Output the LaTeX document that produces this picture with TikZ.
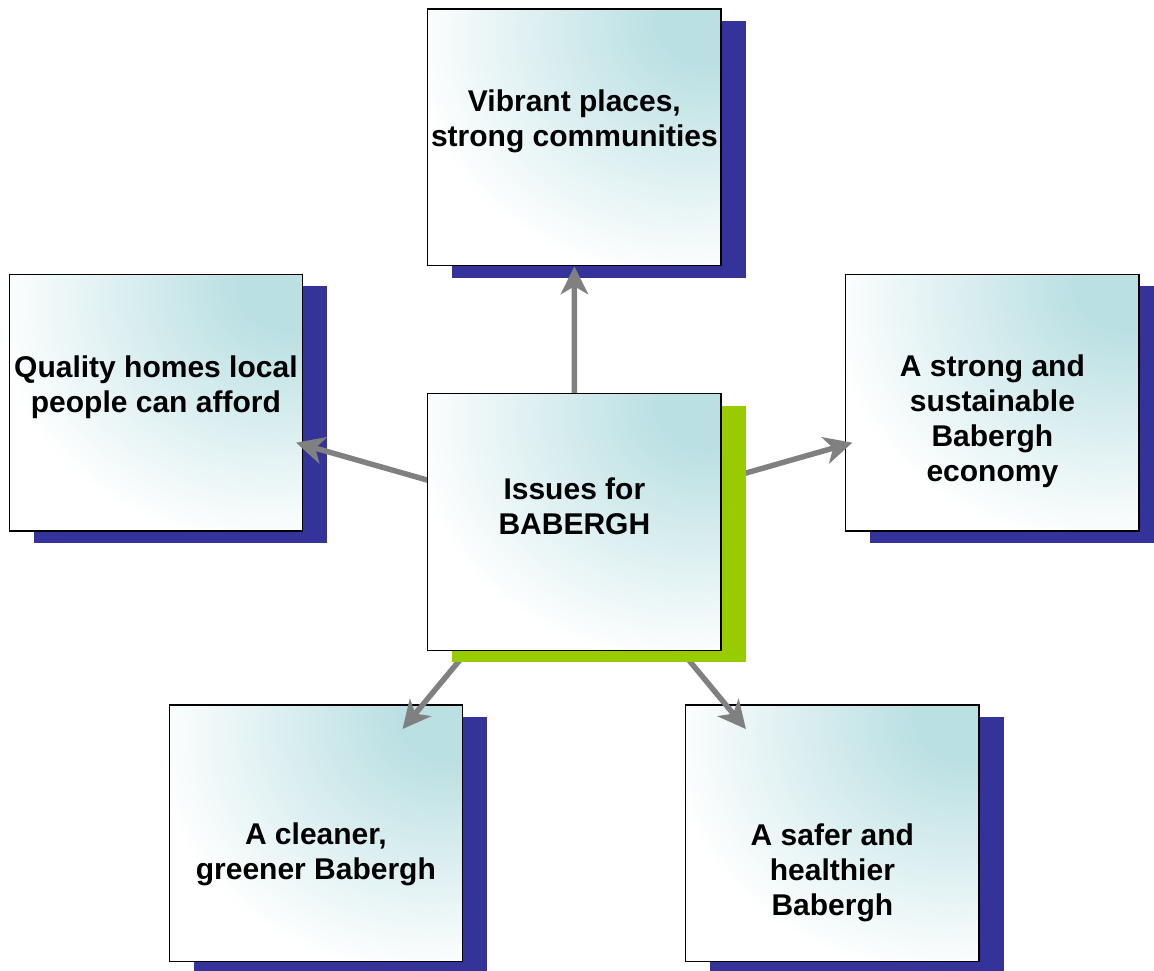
\documentclass[tikz,border=0pt]{standalone}
\usepackage{fontspec}
\setmainfont{Liberation Sans}
\usepackage{tikz}
\usetikzlibrary{arrows.meta, calc, shadows}
\definecolor{bbteal}{RGB}{187, 224, 227}
\definecolor{bbnavy}{RGB}{51, 51, 153}
\definecolor{bblime}{RGB}{153, 204, 0}
\definecolor{bbgray}{RGB}{128, 128, 128}
\pgfdeclareradialshading{bbglow}{\pgfpoint{24bp}{24bp}}{color(0bp)=(bbteal); color(9bp)=(bbteal); color(46bp)=(white); color(200bp)=(white)}

\begin{document}
\begin{tikzpicture}[
  x=0.75pt, y=-0.75pt,
  box/.style={rectangle, draw=black, line width=1pt, shading=bbglow, minimum width=220pt, minimum height=192.4pt, inner sep=0pt},
  navyshadow/.style={drop shadow={shadow xshift=18.4pt, shadow yshift=-9pt, fill=bbnavy, opacity=1}},
  limeshadow/.style={drop shadow={shadow xshift=18.4pt, shadow yshift=-9pt, fill=bblime, opacity=1}},
  txt/.style={font=\fontsize{22.5}{26.25}\selectfont\bfseries, align=center, inner sep=0pt},
  link/.style={-{Stealth[length=21pt, width=20.5pt, inset=6pt]}, draw=bbgray, line width=4.1pt}
]
\useasboundingbox (0,0) rectangle (1154,971);

\coordinate (hub) at (574.4,522);

\node[box, navyshadow] (vibrant) at (574.4,137.4) {};
\node[box, navyshadow] (homes) at (155.9,402.7) {};
\node[box, navyshadow] (economy) at (992.4,402.7) {};
\node[box, navyshadow] (greener) at (315.9,833.4) {};
\node[box, navyshadow] (safer) at (832.4,833.4) {};

\node[txt] (vibranttxt) at ($(vibrant)+(0,-16)$) {Vibrant places,\\strong communities};
\node[txt] (homestxt) at ($(homes)+(0,-15)$) {Quality homes local\\people can afford};
\node[txt] (economytxt) at ($(economy)+(0,19)$) {A strong and\\sustainable\\Babergh\\economy};
\node[txt] (greenertxt) at ($(greener)+(0,21)$) {A cleaner,\\greener Babergh};
\node[txt] (safertxt) at ($(safer)+(0,39)$) {A safer and\\healthier\\Babergh};

\draw[link] (hub) -- ($(hub)!.665!(vibrant)$);
\draw[link] (hub) -- ($(hub)!.665!(homes)$);
\draw[link] (hub) -- ($(hub)!.665!(economy)$);
\draw[link] (hub) -- ($(hub)!.665!(greener)$);
\draw[link] (hub) -- ($(hub)!.665!(safer)$);

\node[box, limeshadow] (issues) at (hub) {};
\node[txt] (issuestxt) at ($(issues)+(0,-16)$) {Issues for\\BABERGH};

\end{tikzpicture}
\end{document}
